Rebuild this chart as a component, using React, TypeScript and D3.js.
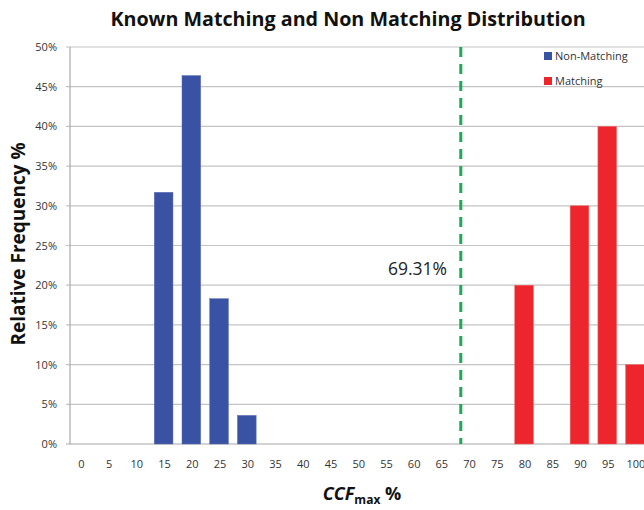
import React from "react";
import * as d3 from "d3";

const categories = ["0","5","10","15","20","25","30","35","40","45","50","55","60","65","70","75","80","85","90","95","100"];
const nonMatching = [
  { cat: "15", value: 31.7 },
  { cat: "20", value: 46.4 },
  { cat: "25", value: 18.3 },
  { cat: "30", value: 3.6 },
];
const matching = [
  { cat: "80", value: 20 },
  { cat: "90", value: 30 },
  { cat: "95", value: 40 },
  { cat: "100", value: 10 },
];
const yTicks = [0, 5, 10, 15, 20, 25, 30, 35, 40, 45, 50];
const threshold = 69.31;
const thresholdLabel = "69.31%";
const title = "Known Matching and Non Matching Distribution";

const W = 644;
const H = 510;
const left = 69.7;
const right = 645.7;
const top = 47;
const bottom = 444;
const font = "Open Sans, Liberation Sans, sans-serif";

export default function App() {
  const x = d3.scaleBand<string>().domain(categories).range([left, right]).paddingInner(0.326).paddingOuter(0.05);
  const y = d3.scaleLinear().domain([0, 50]).range([bottom, top]);
  const bw = x.bandwidth();
  const step = x.step();
  const x0 = x("0")! + bw / 2;
  const xVal = d3.scaleLinear().domain([0, 100]).range([x0 - 4, x0 - 4 + 20 * step]);
  const tx = xVal(threshold);
  return (
    <svg width={W} height={H} style={{ position: "absolute", left: 0, top: 0, background: "#fff" }}>
      <rect x={0} y={0} width={W} height={H} fill="#fff" />
      <text x={348} y={26} textAnchor="middle" fontFamily={font} fontWeight="bold" fontSize={19.7} fill="#111">{title}</text>
      {yTicks.map((t) => (
        <g key={t}>
          <line x1={66} x2={W} y1={y(t)} y2={y(t)} stroke={t === 0 ? "#a8a8a8" : "#c4c4c4"} strokeWidth={1.2} />
          <text x={57} y={y(t) + 4} textAnchor="end" fontFamily={font} fontSize={11} fill="#333">{t}%</text>
        </g>
      ))}
      <line x1={70} x2={70} y1={top} y2={bottom} stroke="#a8a8a8" strokeWidth={1.2} />
      {categories.map((c) => (
        <text key={c} x={x(c)! + bw / 2 + 1} y={468} textAnchor="middle" fontFamily={font} fontSize={11} fill="#333">{c}</text>
      ))}
      {nonMatching.map((d) => (
        <rect key={"n" + d.cat} x={x(d.cat)} y={y(d.value)} width={bw} height={bottom - y(d.value)} fill="#3a52a3" stroke="#5b6fb5" strokeWidth={0.5} />
      ))}
      {matching.map((d) => (
        <rect key={"m" + d.cat} x={x(d.cat)} y={y(d.value)} width={bw} height={bottom - y(d.value)} fill="#ec262c" stroke="#f06a6a" strokeWidth={0.5} />
      ))}
      <line x1={tx} x2={tx} y1={top} y2={bottom} stroke="#1fa855" strokeWidth={3} strokeDasharray="10 7" />
      <text x={447} y={275} textAnchor="end" fontFamily={font} fontSize={17.5} fill="#222">{thresholdLabel}</text>
      <rect x={544} y={52} width={8} height={8} fill="#3a52a3" />
      <text x={555} y={60} fontFamily={font} fontSize={11} fill="#333">Non-Matching</text>
      <rect x={544} y={77} width={8} height={8} fill="#ec262c" />
      <text x={555} y={85} fontFamily={font} fontSize={11} fill="#333">Matching</text>
      <text transform={`translate(25,244) rotate(-90)`} textAnchor="middle" fontFamily={font} fontWeight="bold" fontSize={19} fill="#111">Relative Frequency %</text>
      <text x={362} y={500} textAnchor="middle" fontFamily={font} fontWeight="bold" fontSize={18} fill="#111">
        <tspan fontStyle="italic">CCF</tspan>
        <tspan fontSize={12} dy={4}>max</tspan>
        <tspan dy={-4}> %</tspan>
      </text>
    </svg>
  );
}
